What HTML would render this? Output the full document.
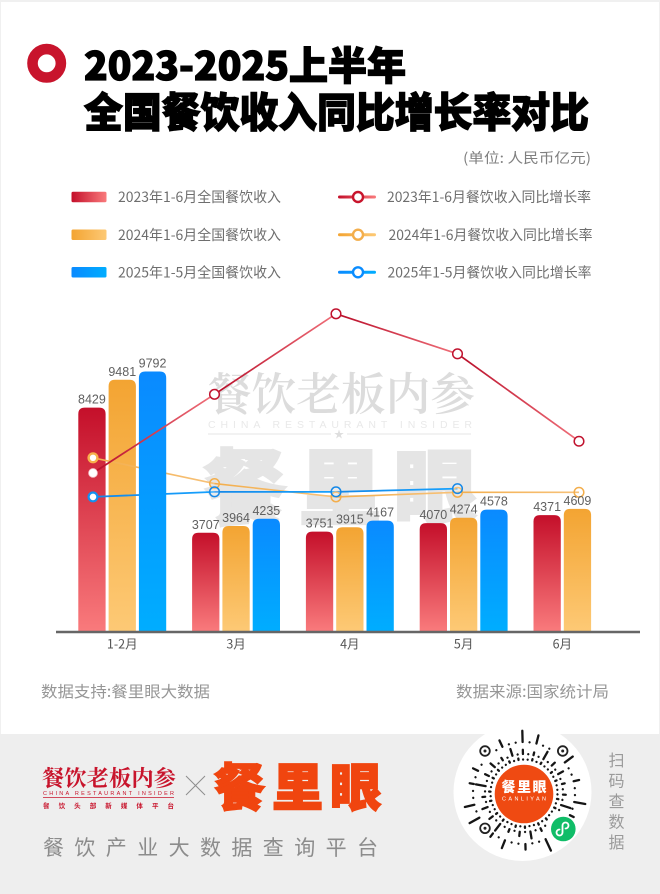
<!DOCTYPE html>
<html lang="zh-CN">
<head>
<meta charset="utf-8">
<title>2023-2025上半年全国餐饮收入同比增长率对比</title>
<style>
html,body{margin:0;padding:0;background:#fff;}
body{width:660px;height:894px;overflow:hidden;}
svg{display:block;}
text{font-family:"Liberation Sans","Noto Sans CJK SC",sans-serif;}
.cjk{font-family:"Noto Sans CJK SC","WenQuanYi Zen Hei",sans-serif;}
.serif{font-family:"Noto Serif CJK SC","Liberation Serif",serif;}
</style>
</head>
<body>
<svg id="chart" xmlns="http://www.w3.org/2000/svg" width="660" height="894" viewBox="0 0 660 894">
<defs>
<linearGradient id="g23" x1="0" y1="0" x2="0" y2="1"><stop offset="0" stop-color="#c40f2a"/><stop offset="1" stop-color="#f97a7c"/></linearGradient>
<linearGradient id="g24" x1="0" y1="0" x2="0" y2="1"><stop offset="0" stop-color="#f3a432"/><stop offset="1" stop-color="#fdc975"/></linearGradient>
<linearGradient id="g25" x1="0" y1="0" x2="0" y2="1"><stop offset="0" stop-color="#0a8aff"/><stop offset="1" stop-color="#00adff"/></linearGradient>
<linearGradient id="h23" x1="0" y1="0" x2="1" y2="0"><stop offset="0" stop-color="#c40f2a"/><stop offset="1" stop-color="#f97a7c"/></linearGradient>
<linearGradient id="h24" x1="0" y1="0" x2="1" y2="0"><stop offset="0" stop-color="#f3a432"/><stop offset="1" stop-color="#fdc975"/></linearGradient>
<linearGradient id="h25" x1="0" y1="0" x2="1" y2="0"><stop offset="0" stop-color="#0a8aff"/><stop offset="1" stop-color="#00adff"/></linearGradient>
</defs>

<rect x="0" y="0" width="660" height="894" fill="#f0f0f0"/>
<rect x="1" y="2" width="658" height="732" fill="#ffffff"/>
<rect x="0" y="734" width="660" height="160" fill="#eeeeee"/>

<circle cx="46.7" cy="63.3" r="14.2" fill="none" stroke="#c8142c" stroke-width="10.6"/>
<text class="cjk" x="84" y="80" font-size="39" font-weight="900" fill="#000" stroke="#000" stroke-width="1.3" textLength="322" lengthAdjust="spacingAndGlyphs">2023-2025上半年</text>
<text class="cjk" x="84" y="127" font-size="41" font-weight="900" fill="#000" stroke="#000" stroke-width="1.3" textLength="505" lengthAdjust="spacingAndGlyphs">全国餐饮收入同比增长率对比</text>
<text class="cjk" x="463" y="163" font-size="14" font-weight="400" fill="#808080" textLength="128" lengthAdjust="spacingAndGlyphs">(单位: 人民币亿元)</text>

<g>
<rect x="71.5" y="191.7" width="35" height="10.5" rx="1.5" fill="url(#h23)"/>
<text class="cjk" x="118" y="202" font-size="14" font-weight="400" fill="#6e6e6e" textLength="163" lengthAdjust="spacingAndGlyphs">2023年1-6月全国餐饮收入</text>
<rect x="71.5" y="229.5" width="35" height="10.5" rx="1.5" fill="url(#h24)"/>
<text class="cjk" x="118" y="240" font-size="14" font-weight="400" fill="#6e6e6e" textLength="163" lengthAdjust="spacingAndGlyphs">2024年1-6月全国餐饮收入</text>
<rect x="71.5" y="267" width="35" height="10.5" rx="1.5" fill="url(#h25)"/>
<text class="cjk" x="118" y="277.500" font-size="14" font-weight="400" fill="#6e6e6e" textLength="163" lengthAdjust="spacingAndGlyphs">2025年1-5月全国餐饮收入</text>

<rect x="338" y="195.500" width="38" height="3" rx="1.500" fill="url(#h23)"/>
<circle cx="358" cy="197" r="5" fill="#fff" stroke="#c8142c" stroke-width="2.4"/>
<text class="cjk" x="387" y="202" font-size="14" font-weight="400" fill="#6e6e6e" textLength="204" lengthAdjust="spacingAndGlyphs">2023年1-6月餐饮收入同比增长率</text>
<rect x="338" y="233.200" width="38" height="3" rx="1.500" fill="url(#h24)"/>
<circle cx="358" cy="234.700" r="5" fill="#fff" stroke="#f3ae4c" stroke-width="2.4"/>
<text class="cjk" x="388.500" y="240" font-size="14" font-weight="400" fill="#6e6e6e" textLength="204" lengthAdjust="spacingAndGlyphs">2024年1-6月餐饮收入同比增长率</text>
<rect x="338" y="270.800" width="38" height="3" rx="1.500" fill="url(#h25)"/>
<circle cx="358" cy="272.300" r="5" fill="#fff" stroke="#0a8cff" stroke-width="2.4"/>
<text class="cjk" x="387.500" y="277.500" font-size="14" font-weight="400" fill="#6e6e6e" textLength="204" lengthAdjust="spacingAndGlyphs">2025年1-5月餐饮收入同比增长率</text>
</g>

<g>
<text class="serif" x="207" y="410" font-size="45" font-weight="600" fill="#dcdcdc" textLength="268" lengthAdjust="spacingAndGlyphs">餐饮老板内参</text>
<text x="208" y="428" font-size="10.500" fill="#e9e9e9" textLength="264">CHINA RESTAURANT INSIDER</text>
<line x1="208" y1="434" x2="331" y2="434" stroke="#e4e4e4" stroke-width="1"/>
<text class="cjk" x="339" y="438" font-size="10" fill="#dedede" text-anchor="middle">★</text>
<line x1="347" y1="434" x2="471" y2="434" stroke="#e4e4e4" stroke-width="1"/>
<text class="cjk" x="204" y="518" font-size="82" font-weight="900" fill="#e5e5e5" stroke="#e5e5e5" stroke-width="3" textLength="272">餐里眼</text>
</g>

<g id="plot"></g>

<text class="cjk" x="41" y="697" font-size="15.500" font-weight="400" fill="#969696" textLength="169" lengthAdjust="spacingAndGlyphs">数据支持:餐里眼大数据</text>
<text class="cjk" x="456" y="697" font-size="15.500" font-weight="400" fill="#969696" textLength="153" lengthAdjust="spacingAndGlyphs">数据来源:国家统计局</text>

<g>
<text class="serif" x="42" y="786" font-size="22" font-weight="700" fill="#c8142c" textLength="134" lengthAdjust="spacingAndGlyphs">餐饮老板内参</text>
<text x="43" y="795" font-size="5.500" fill="#c8142c" textLength="131">CHINA RESTAURANT INSIDER</text>
<line x1="43" y1="797.500" x2="174" y2="797.500" stroke="#c8142c" stroke-width="0.700"/>
<text class="cjk" x="43" y="808" font-size="6.500" font-weight="700" fill="#c8142c" textLength="131">餐饮头部新媒体平台</text>
<line x1="186" y1="776" x2="205" y2="795" stroke="#8c8c8c" stroke-width="1"/>
<line x1="205" y1="776" x2="186" y2="795" stroke="#8c8c8c" stroke-width="1"/>
<text class="cjk" x="214" y="806" font-size="51" font-weight="900" fill="#f0450f" stroke="#f0450f" stroke-width="1.800" textLength="167">餐里眼</text>
<text class="cjk" x="43" y="855" font-size="21" font-weight="400" fill="#8c8c8c" textLength="335">餐饮产业大数据查询平台</text>
</g>

<g>
<circle cx="522.500" cy="792" r="69" fill="#ffffff"/>
<g id="qr-ticks"></g>
<circle cx="485" cy="751" r="4.800" fill="#fff" stroke="#222" stroke-width="1.800"/>
<circle cx="485" cy="751" r="1.500" fill="#222"/>
<circle cx="562.700" cy="751" r="4.800" fill="#fff" stroke="#222" stroke-width="1.800"/>
<circle cx="562.700" cy="751" r="1.500" fill="#222"/>
<circle cx="485" cy="828.300" r="4.800" fill="#fff" stroke="#222" stroke-width="1.800"/>
<circle cx="485" cy="828.300" r="1.500" fill="#222"/>
<circle cx="524" cy="794" r="29.300" fill="#ef4a12"/>
<text class="cjk" x="501.500" y="792" font-size="14" font-weight="900" fill="#fff" textLength="45">餐里眼</text>
<text x="502" y="800.500" font-size="5.500" fill="#fff" textLength="44">CANLIYAN</text>
<circle cx="563.300" cy="829" r="12.300" fill="#10bd68"/>
<path d="M559.500 829.500a3 3 0 0 0-3 3a3 3 0 1 0 6 0v-7a3 3 0 1 1 6 0a3 3 0 0 1-3 3" fill="none" stroke="#fff" stroke-width="1.800" stroke-linecap="round"/>
<text class="cjk" x="616.500" y="766" font-size="16" fill="#9a9a9a" text-anchor="middle">扫<tspan x="616.500" dy="20.500">码</tspan><tspan x="616.500" dy="20.500">查</tspan><tspan x="616.500" dy="20.500">数</tspan><tspan x="616.500" dy="20.500">据</tspan></text>
</g>
</svg>

<script>
const categories = ['1-2月', '3月', '4月', '5月', '6月'];
const revenue2023 = [8429, 3707, 3751, 4070, 4371];
const revenue2024 = [9481, 3964, 3915, 4274, 4609];
const revenue2025 = [9792, 4235, 4167, 4578];
const growth2023 = [9.2, 26.3, 43.8, 35.1, 16.1];
const growth2024 = [12.5, 6.9, 4.0, 5.0, 5.0];
const growth2025 = [4.0, 5.1, 5.1, 5.8];

const SVGNS = 'http://www.w3.org/2000/svg';
const plot = document.getElementById('plot');
const defs = document.querySelector('defs');

function make(tag, attrs, parent) {
  const el = document.createElementNS(SVGNS, tag);
  for (const k in attrs) el.setAttribute(k, attrs[k]);
  (parent || plot).appendChild(el);
  return el;
}

const BASE_Y = 631;
function yBar(v) { return BASE_Y - v * 0.0265; }
function yRate(v) { return 515.3 - v * 4.6; }
function xBar(groupIdx, seriesIdx) { return 78.3 + groupIdx * 113.8 + seriesIdx * 30.3; }
function xPoint(i) { return 93 + i * 121.5; }
const BAR_W = 27.3;

function drawBars(values, seriesIdx, fill, key) {
  values.forEach(function (v, i) {
    const x = xBar(i, seriesIdx), y = yBar(v), r = 6.5;
    const bar = make('path', {
      d: 'M' + x + ' ' + BASE_Y + 'V' + (y + r) + 'Q' + x + ' ' + y + ' ' + (x + r) + ' ' + y +
         'H' + (x + BAR_W - r) + 'Q' + (x + BAR_W) + ' ' + y + ' ' + (x + BAR_W) + ' ' + (y + r) +
         'V' + BASE_Y + 'Z',
      fill: fill
    });
    
    
  });
}

function drawBarLabels(values, seriesIdx, key) {
  values.forEach(function (v, i) {
    const t = make('text', {
      x: xBar(i, seriesIdx) + BAR_W / 2, y: yBar(v) - 4, 'font-size': 12.5,
      fill: '#606060', 'text-anchor': 'middle'
    });
    t.textContent = String(v);
    
    
  });
}

let gradId = 0;
function drawLine(values, startColor, endColor, width, key) {
  for (let i = 0; i < values.length - 1; i++) {
    const x1 = xPoint(i), y1 = yRate(values[i]), x2 = xPoint(i + 1), y2 = yRate(values[i + 1]);
    const id = 'seg' + (gradId++);
    const g = make('linearGradient', { id: id, gradientUnits: 'userSpaceOnUse', x1: x1, y1: y1, x2: x2 + 0.01, y2: y2 + 0.01 }, defs);
    make('stop', { offset: 0, 'stop-color': startColor }, g);
    make('stop', { offset: 1, 'stop-color': endColor }, g);
    const seg = make('line', { x1: x1, y1: y1, x2: x2, y2: y2, stroke: 'url(#' + id + ')', 'stroke-width': width });
    
    
  }
}

function drawMarkers(values, color, firstColor, firstWidth, key, midFill) {
  values.forEach(function (v, i) {
    const c = make('circle', {
      cx: xPoint(i), cy: yRate(v), r: i === 0 ? 4.4 : 4.8,
      fill: i === 0 ? '#fff' : midFill,
      stroke: i === 0 ? firstColor : color, 'stroke-width': i === 0 ? firstWidth : 1.5
    });
    
    
  });
}

drawBars(revenue2023, 0, 'url(#g23)', '2023');
drawBars(revenue2024, 1, 'url(#g24)', '2024');
drawLine(growth2024, '#f3ae4c', '#f7c27a', 1.6, 'growth-2024');
drawLine(growth2025, '#1488e8', '#16a2ff', 1.8, 'growth-2025');
drawBars(revenue2025, 2, 'url(#g25)', '2025');
drawLine(growth2023, '#b80c28', '#f0707a', 1.7, 'growth-2023');
drawMarkers(growth2024, '#f3ae4c', '#f7b04c', 2.4, 'growth-2024', 'rgba(255,255,255,0)');
drawMarkers(growth2025, '#1488e8', '#1490f0', 2.2, 'growth-2025', 'rgba(255,255,255,0.25)');
drawMarkers(growth2023, '#c0122e', '#f5c4cb', 0.8, 'growth-2023', '#ffffff');
drawBarLabels(revenue2023, 0, '2023');
drawBarLabels(revenue2024, 1, '2024');
drawBarLabels(revenue2025, 2, '2025');

const axis = make('line', { x1: 56, y1: 632, x2: 640, y2: 632, stroke: '#666', 'stroke-width': 2.4 });



categories.forEach(function (c, i) {
  const n = (i < revenue2025.length) ? 3 : 2;
  const cx = xBar(i, 0) + (BAR_W + (n - 1) * 30.3) / 2;
  const t = make('text', { x: cx, y: 648.5, 'font-size': 12.5, fill: '#555', 'text-anchor': 'middle', 'class': 'cjk' });
  t.textContent = c;
  
  
});

/* Decorative mini-program code pattern: tick length per slot, 0 = dot */
const qr = document.getElementById('qr-ticks');
const qrRings = [
  { r: 33.5, s: '0101001010010100101001010010100101001010010100' },
  { r: 39, s: '2070304020503020603040207030402050302060304020' },
  { r: 51, s: '0803005090040060300807003040900500806003070040' }
];
const qrCx = 524, qrCy = 793;
const qrAvoid = [[485, 751, 9], [562.7, 751, 9], [485, 828.3, 9], [563.3, 829, 15]];
qrRings.forEach(function (ring) {
  const n = ring.s.length;
  for (let i = 0; i < n; i++) {
    const len = Number(ring.s[i]) * 1.4;
    const a = (i + 0.3) / n * Math.PI * 2;
    const cs = Math.cos(a), sn = Math.sin(a);
    const px = qrCx + cs * (ring.r + len / 2), py = qrCy + sn * (ring.r + len / 2);
    const blocked = qrAvoid.some(function (q) { return Math.hypot(px - q[0], py - q[1]) < q[2]; });
    if (blocked) continue;
    const tick = make('line', {
      x1: qrCx + cs * ring.r, y1: qrCy + sn * ring.r,
      x2: qrCx + cs * (ring.r + len) + 0.01, y2: qrCy + sn * (ring.r + len) + 0.01,
      stroke: '#151515', 'stroke-width': 2.3, 'stroke-linecap': 'round'
    }, qr);
    
    
  }
});
</script>
</body>
</html>
